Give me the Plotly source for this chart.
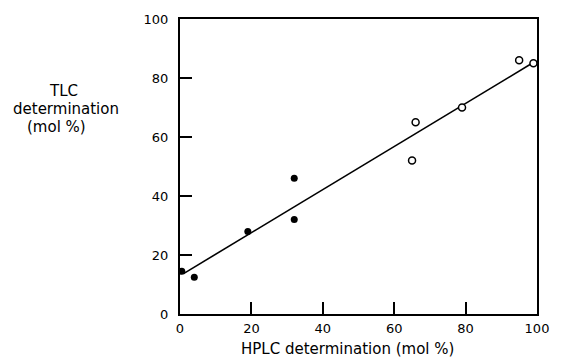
import plotly.graph_objects as go

# Data
filled_x = [0.5, 4, 19, 32, 32]
filled_y = [14.5, 12.5, 28, 46, 32]
open_x = [65, 66, 79, 95, 99]
open_y = [52, 65, 70, 86, 85]
fit_x = [1, 98.5]
fit_y = [13.7, 84.9]
tick_vals = [0, 20, 40, 60, 80, 100]
tick_text = ["0", "20", "40", "60", "80", "100"]

FONT = "DejaVu Sans, Liberation Sans, Arial, sans-serif"

fig = go.Figure()
fig.add_trace(go.Scatter(x=fit_x, y=fit_y, mode="lines",
                         line=dict(color="black", width=1.6), showlegend=False))
fig.add_trace(go.Scatter(x=filled_x, y=filled_y, mode="markers",
                         marker=dict(color="black", size=7), showlegend=False))
fig.add_trace(go.Scatter(x=open_x, y=open_y, mode="markers",
                         marker=dict(color="white", size=7, symbol="circle",
                                     line=dict(color="black", width=1.5)),
                         showlegend=False))

axis_common = dict(
    range=[0, 100], tickvals=tick_vals, ticktext=tick_text,
    ticks="inside", ticklen=12, tickwidth=1.5, tickcolor="black",
    showline=True, linecolor="black", linewidth=2, mirror=True,
    showgrid=False, zeroline=False,
    tickfont=dict(family=FONT, size=13, color="black"),
)
fig.update_xaxes(**axis_common, ticklabelstandoff=1)
fig.update_yaxes(**axis_common, ticklabelstandoff=7)

TITLE_FONT = dict(family=FONT, size=15, color="black")
fig.add_annotation(text="HPLC determination (mol %)", xref="paper", yref="paper",
                   x=0.47, y=-0.117, yanchor="middle", xanchor="center", showarrow=False,
                   borderpad=0, font=TITLE_FONT)
fig.add_annotation(text="TLC", xref="paper", yref="paper",
                   x=-0.327, y=0.755, showarrow=False, xanchor="center", yanchor="middle",
                   font=TITLE_FONT)
fig.add_annotation(text="determination", xref="paper", yref="paper",
                   x=-0.319, y=0.694, showarrow=False, xanchor="center", yanchor="middle",
                   font=TITLE_FONT)
fig.add_annotation(text="(mol %)", xref="paper", yref="paper",
                   x=-0.346, y=0.633, showarrow=False, xanchor="center", yanchor="middle",
                   font=TITLE_FONT)

fig.update_layout(
    width=561, height=357,
    margin=dict(l=180, r=15, t=19, b=43),
    plot_bgcolor="white", paper_bgcolor="white",
    font=dict(family=FONT, color="black"),
)

fig.write_html("out.html", config={"displayModeBar": False},
               post_script="document.body.style.margin='0';document.body.style.overflow='hidden';")
